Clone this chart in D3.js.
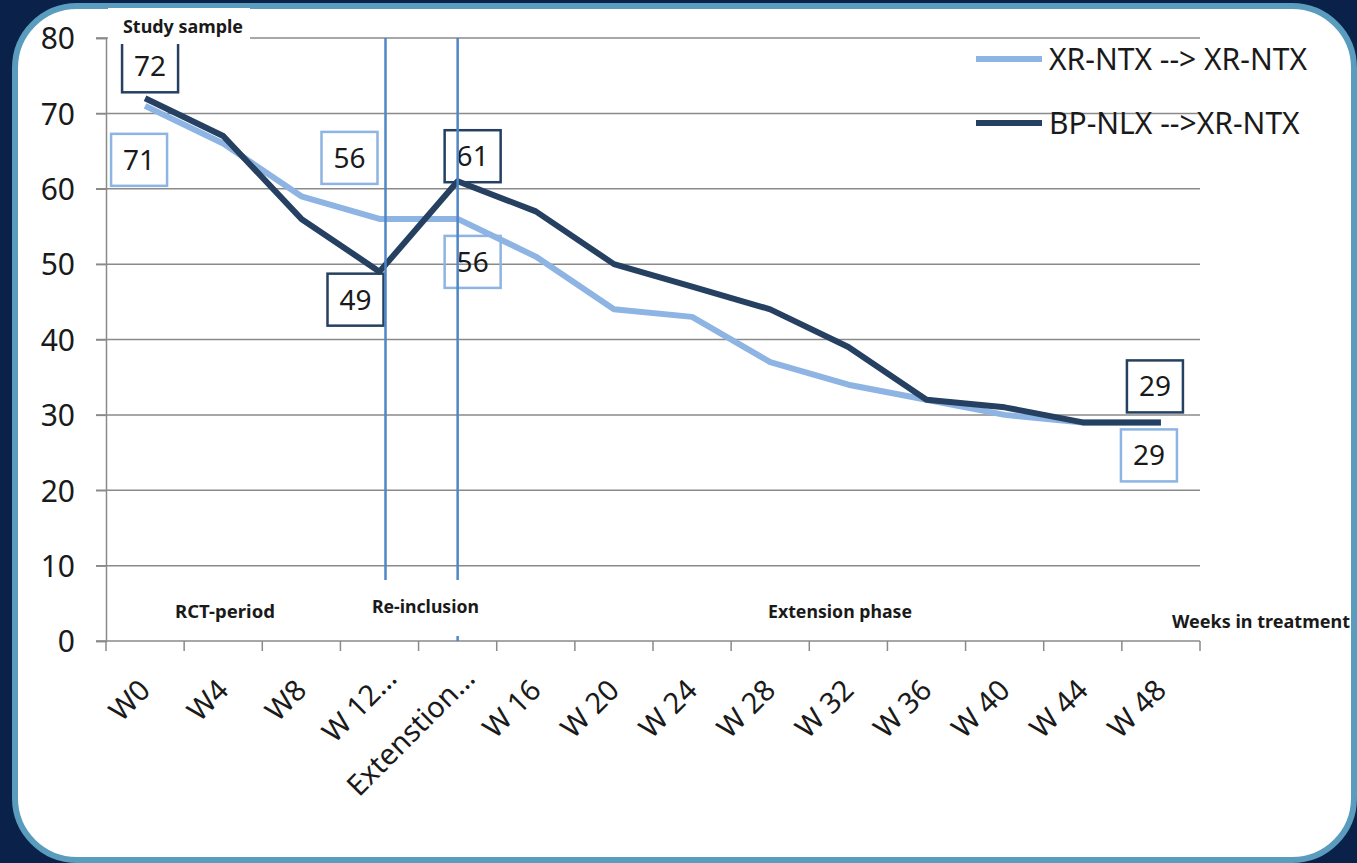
<!DOCTYPE html>
<html>
<head>
<meta charset="utf-8">
<script src="https://cdn.jsdelivr.net/npm/d3@7/dist/d3.min.js"></script>
<style>
  html, body { margin: 0; padding: 0; background: #0a2249; }
  svg { display: block; }
</style>
</head>
<body>
<svg id="chart" width="1357" height="863"></svg>
<script>
// ---------- data ----------
const categories = ["W0", "W4", "W8", "W 12\u2026", "Extenstion\u2026", "W 16", "W 20", "W 24", "W 28", "W 32", "W 36", "W 40", "W 44", "W 48"];
const seriesNames = ["XR-NTX --> XR-NTX", "BP-NLX -->XR-NTX"];
const xrValues = [71, 66, 59, 56, 56, 51, 44, 43, 37, 34, 32, 30, 29, 29];
const bpValues = [72, 67, 56, 49, 61, 57, 50, 47, 44, 39, 32, 31, 29, 29];
const yTicks = [0, 10, 20, 30, 40, 50, 60, 70, 80];
// which points carry a value label (series index, category index)
const labelPoints = [[1, 0], [0, 0], [0, 3], [1, 3], [1, 4], [0, 4], [1, 13], [0, 13]];
const phaseLabels = ["Study sample", "RCT-period", "Re-inclusion", "Extension phase", "Weeks in treatment"];

// ---------- layout ----------
const svg = d3.select("#chart");
const W = 1357, H = 863;
const plot = { left: 106, right: 1200, top: 38, bottom: 641 };
const colors = ["#8db4e2", "#254061"];
const vlineColor = "#4f86c6";
const gridColor = "#8a8a8a";

// background panel
svg.append("rect").attr("x", 0).attr("y", 0).attr("width", W).attr("height", H).attr("fill", "#0a2249");
svg.append("rect").attr("x", 15).attr("y", 6).attr("width", 1339).attr("height", 854)
  .attr("rx", 62).attr("ry", 62)
  .attr("fill", "#ffffff").attr("stroke", "#5a9cbd").attr("stroke-width", 6);

const x = d3.scaleBand().domain(categories).range([plot.left, plot.right]).padding(0);
const y = d3.scaleLinear().domain([0, 80]).range([plot.bottom, plot.top]);
const cx = c => x(c) + x.bandwidth() / 2;

// gridlines
svg.append("g").selectAll("line").data(yTicks.filter(t => t > 0)).join("line")
  .attr("x1", plot.left - 10).attr("x2", plot.right)
  .attr("y1", d => y(d)).attr("y2", d => y(d))
  .attr("stroke", gridColor).attr("stroke-width", 1.5);

// y axis
const yAxis = d3.axisLeft(y).tickValues(yTicks).tickSize(10).tickPadding(30);
const gy = svg.append("g").attr("transform", `translate(${plot.left},0)`).call(yAxis);
gy.select(".domain").attr("stroke", gridColor).attr("stroke-width", 1.5);
gy.selectAll(".tick line").attr("stroke", gridColor).attr("stroke-width", 1.5);
gy.selectAll(".tick text").attr("font-family", "'Noto Sans', sans-serif").attr("font-size", 30)
  .attr("fill", "#1a1a1a").attr("x", -31).attr("dy", "0.36em");

// x axis
const gx = svg.append("g").attr("transform", `translate(0,${plot.bottom})`);
gx.append("line").attr("x1", plot.left - 10).attr("x2", plot.right).attr("y1", 0).attr("y2", 0)
  .attr("stroke", gridColor).attr("stroke-width", 1.5);
const edges = categories.map(c => x(c)).concat([plot.right]);
gx.selectAll("line.tk").data(edges).join("line").attr("class", "tk")
  .attr("x1", d => d).attr("x2", d => d).attr("y1", 0).attr("y2", 10)
  .attr("stroke", gridColor).attr("stroke-width", 1.5);

// x tick labels, rotated
const xl = svg.append("g");
categories.forEach(c => {
  const ax = cx(c) + 7, ay = 692;
  const hasEll = c.endsWith("\u2026");
  const base = hasEll ? c.slice(0, -1) : c;
  const t = xl.append("text")
    .attr("font-family", "'Noto Sans', sans-serif").attr("font-size", 29).attr("fill", "#1a1a1a")
    .attr("text-anchor", "end").attr("transform", `translate(${ax},${ay}) rotate(-45)`)
    .text(base);
  if (hasEll) {
    const L = t.node().getComputedTextLength();
    t.attr("text-anchor", "start").attr("x", -L - 6).text(c);
  }
});

// series lines
const series = [xrValues, bpValues];
const line = d3.line().x((d, i) => cx(categories[i])).y(d => y(d));
series.forEach((vals, s) => {
  svg.append("path").datum(vals).attr("d", line)
    .attr("fill", "none").attr("stroke", colors[s]).attr("stroke-width", 6)
    .attr("stroke-linejoin", "round");
});

// value labels (boxes)
const labelOffsets = [[5, -32], [-6, 54], [-30, -61], [-24, 28], [15, -25], [15, 43], [-6, -36], [-12, 33]];
const boxW = 56, boxH = 52;
labelPoints.forEach(([s, i], k) => {
  const px = cx(categories[i]) + labelOffsets[k][0];
  const py = y(series[s][i]) + labelOffsets[k][1];
  svg.append("rect").attr("x", px - boxW / 2).attr("y", py - boxH / 2)
    .attr("width", boxW).attr("height", boxH)
    .attr("fill", "none").attr("stroke", colors[s]).attr("stroke-width", 2.5);
  svg.append("text").attr("x", px).attr("y", py).attr("dy", "0.36em")
    .attr("text-anchor", "middle").attr("font-family", "'Noto Sans', sans-serif")
    .attr("font-size", 28).attr("fill", "#1a1a1a").text(series[s][i]);
});

// Study sample label (white backing hides gridline)
svg.append("rect").attr("x", plot.left + 2).attr("y", 8).attr("width", 142).attr("height", 36).attr("fill", "#fff");

// phase divider lines
const v1 = cx(categories[3]) + 6, v2 = cx(categories[4]);
[v1, v2].forEach(vx => {
  svg.append("line").attr("x1", vx).attr("x2", vx).attr("y1", plot.top).attr("y2", 580)
    .attr("stroke", vlineColor).attr("stroke-width", 2.5);
});
svg.append("line").attr("x1", v2).attr("x2", v2).attr("y1", 636).attr("y2", plot.bottom)
  .attr("stroke", vlineColor).attr("stroke-width", 2.5);

// annotation texts
const annPos = [[123, 33, 120], [175, 618, 100], [372, 613, 107], [768, 618, 144], [1172, 628, 178]];
phaseLabels.forEach((t, k) => {
  svg.append("text").attr("x", annPos[k][0]).attr("y", annPos[k][1])
    .attr("font-family", "'Noto Sans', sans-serif").attr("font-weight", "bold")
    .attr("font-size", 17).attr("fill", "#1a1a1a")
    .attr("textLength", annPos[k][2]).attr("lengthAdjust", "spacingAndGlyphs")
    .text(t);
});

// legend
const leg = svg.append("g");
seriesNames.forEach((n, s) => {
  const ly = 59 + s * 64;
  leg.append("line").attr("x1", 976).attr("x2", 1042).attr("y1", ly).attr("y2", ly)
    .attr("stroke", colors[s]).attr("stroke-width", 6);
  leg.append("text").attr("x", 1049).attr("y", ly).attr("dy", "0.36em")
    .attr("font-family", "'Noto Sans', sans-serif").attr("font-size", 30).attr("fill", "#1a1a1a")
    .text(n);
});
</script>
</body>
</html>
